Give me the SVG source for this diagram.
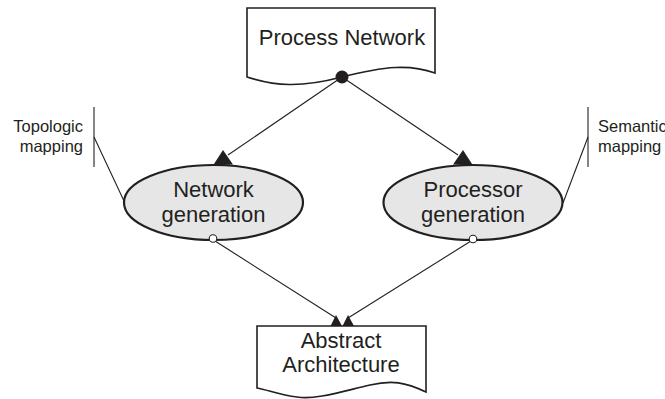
<svg xmlns="http://www.w3.org/2000/svg" width="665" height="399" viewBox="0 0 665 399">
  <style>
    .doc { fill: #ffffff; stroke: #231f20; stroke-width: 1.6; }
    .proc { fill: #e6e6e7; stroke: #231f20; stroke-width: 2.2; }
    .edge { fill: none; stroke: #231f20; stroke-width: 1.1; }
    .head { fill: #231f20; stroke: none; }
    .port { fill: #ffffff; stroke: #231f20; stroke-width: 1.1; }
    .label { font-family: "Liberation Sans", Arial, sans-serif; font-size: 22px; fill: #231f20; text-anchor: middle; }
    .note { font-family: "Liberation Sans", Arial, sans-serif; font-size: 16.5px; fill: #231f20; }
  </style>

  <!-- connectors -->
  <g id="connectors">
    <line class="edge" x1="342" y1="77" x2="228" y2="155"/>
    <line class="edge" x1="342" y1="77" x2="458" y2="155"/>
    <polygon class="head" points="223,150 213,165.5 233,164.5"/>
    <polygon class="head" points="463,150 453,164.5 473,165.5"/>
    <line class="edge" x1="215" y1="241" x2="336" y2="318"/>
    <line class="edge" x1="471" y1="241" x2="348" y2="318"/>
    <polygon class="head" points="336,315 330.5,326 342,326"/>
    <polygon class="head" points="348,315 342.5,326 354,326"/>
    <line class="edge" x1="94" y1="137" x2="124" y2="201"/>
    <line class="edge" x1="588" y1="137" x2="563" y2="203"/>
  </g>

  <!-- source document -->
  <g id="process-network">
    <path class="doc" d="M247,8 H435 V73 C410,64 385,66 342,77 C300,88 275,86 247,77 Z"/>
    <text class="label" x="342" y="45">Process Network</text>
    <circle cx="342" cy="77" r="6.5" fill="#231f20"/>
  </g>

  <!-- generation steps -->
  <g id="network-generation">
    <ellipse class="proc" cx="213.5" cy="202.5" rx="89.5" ry="37.5"/>
    <text class="label" x="213.5" y="197">Network</text>
    <text class="label" x="213.5" y="222">generation</text>
    <circle class="port" cx="213" cy="238.5" r="3.8"/>
  </g>

  <g id="processor-generation">
    <ellipse class="proc" cx="473" cy="202.5" rx="89.5" ry="37.5"/>
    <text class="label" x="473" y="197">Processor</text>
    <text class="label" x="473" y="222">generation</text>
    <circle class="port" cx="473" cy="239" r="3.8"/>
  </g>

  <!-- result document -->
  <g id="abstract-architecture">
    <path class="doc" d="M257,326 H426 V392 C405,382 392,380 370,385 C340,392 315,400 297,397 C280,395 268,390 257,388 Z"/>
    <text class="label" x="341" y="348">Abstract</text>
    <text class="label" x="341" y="372">Architecture</text>
  </g>

  <!-- annotations -->
  <g id="topologic-mapping">
    <line class="edge" x1="94" y1="107" x2="94" y2="167"/>
    <text class="note" x="83" y="132" text-anchor="end">Topologic</text>
    <text class="note" x="83" y="152" text-anchor="end">mapping</text>
  </g>

  <g id="semantic-mapping">
    <line class="edge" x1="588" y1="107" x2="588" y2="167"/>
    <text class="note" x="598" y="132">Semantic</text>
    <text class="note" x="598" y="152">mapping</text>
  </g>
</svg>
